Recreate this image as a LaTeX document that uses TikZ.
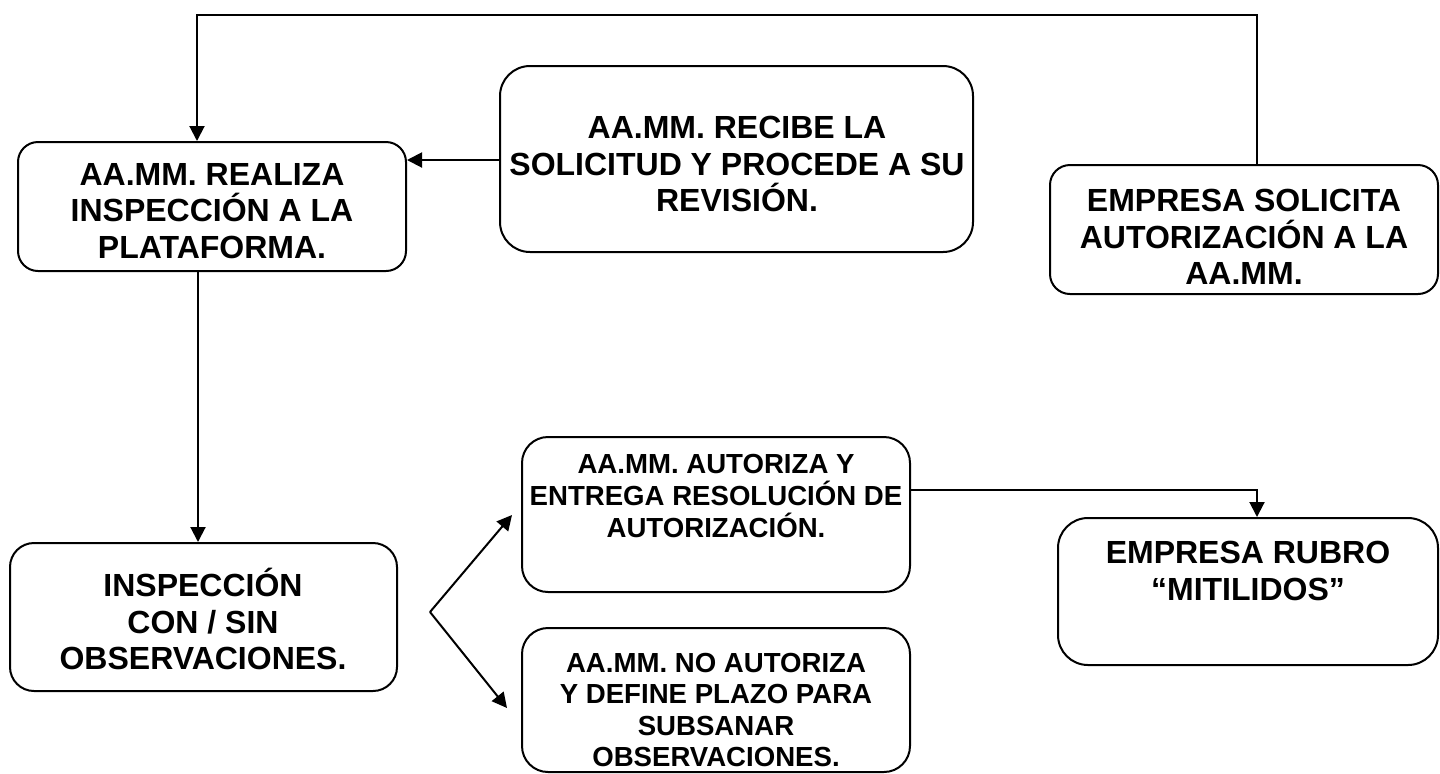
\documentclass[tikz,border=0pt]{standalone}
\usepackage{fontspec}
\setmainfont{Liberation Sans}
\usetikzlibrary{arrows.meta,calc,fit}
\tikzset{
  box/.style={draw, line width=1pt, rounded corners=#1, inner sep=0pt},
  box/.default=10pt,
  bigtxt/.style={font=\fontsize{16pt}{18.2pt}\selectfont\bfseries, align=center, inner sep=0pt},
  smalltxt/.style={font=\fontsize{13.8pt}{15.8pt}\selectfont\bfseries, align=center, inner sep=0pt},
  conn/.style={line width=1pt, -{Triangle[length=7.5pt,width=7.5pt]}},
}
\begin{document}
\begin{tikzpicture}[x=0.5pt,y=-0.5pt]
\useasboundingbox (0,0) rectangle (1440,773);
% boxes
\node[box=10pt, fit={(18,142) (406,271)}] (b1) {};
\node[box=15pt, fit={(500,66) (973,252)}] (b2) {};
\node[box=10pt, fit={(1050,165) (1438,294)}] (b3) {};
\node[box=12pt, fit={(10,543) (397,691)}] (b4) {};
\node[box=13pt, fit={(522,437) (910,592)}] (b5) {};
\node[box=13pt, fit={(522,628) (910,772)}] (b6) {};
\node[box=15pt, fit={(1058,518) (1438,665)}] (b7) {};
% texts
\node[bigtxt] (t1) at (212,211) {AA.MM. REALIZA\\INSPECCIÓN A LA\\PLATAFORMA.};
\node[bigtxt] (t2) at (737,164) {AA.MM. RECIBE LA\\SOLICITUD Y PROCEDE A SU\\REVISIÓN.};
\node[bigtxt] (t3) at (1244,237) {EMPRESA SOLICITA\\AUTORIZACIÓN A LA\\AA.MM.};
\node[bigtxt] (t4) at (203,619) {INSPECCIÓN\\CON / SIN\\OBSERVACIONES.};
\node[smalltxt] (t5) at (716,496) {AA.MM. AUTORIZA Y\\ENTREGA RESOLUCIÓN DE\\AUTORIZACIÓN.};
\node[smalltxt] (t6) at (716,710) {AA.MM. NO AUTORIZA\\Y DEFINE PLAZO PARA\\SUBSANAR\\OBSERVACIONES.};
\node[bigtxt] (t7) at (1248,571) {EMPRESA RUBRO\\“MITILIDOS”};
% connectors
\coordinate (c1) at (1257,15);
\coordinate (c2) at (197,15);
\draw[conn] (b3.north -| c1) -- (c1) -- (c2) -- (c2 |- b1.north);
\draw[conn] (b2.west |- 0,160) -- (b1.east |- 0,160);
\coordinate (c4) at (198,0);
\draw[conn] (b1.south -| c4) -- (b4.north -| c4);
\coordinate (ap) at (430,612);
\coordinate (up) at (512,515);
\coordinate (dn) at (507,708);
\draw[conn] (ap) -- (up);
\draw[conn] (ap) -- (dn);
\coordinate (c3) at (1257,490);
\draw[conn] (b5.east |- c3) -- (c3) -- (c3 |- b7.north);
\end{tikzpicture}
\end{document}
